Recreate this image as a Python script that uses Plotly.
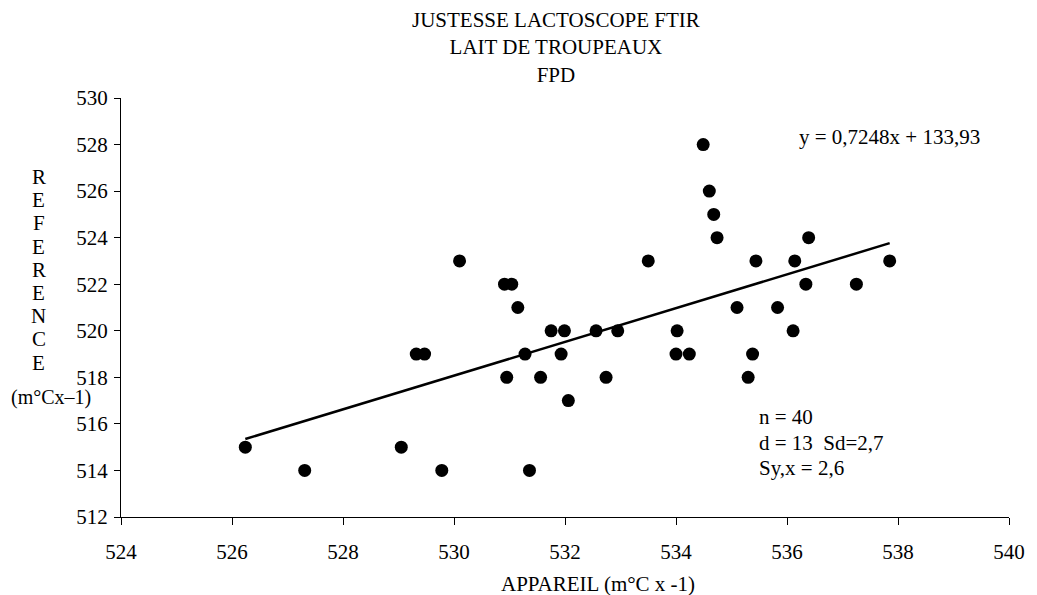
import plotly.graph_objects as go

# Data
appareil = [526.24, 527.31, 529.05, 529.78, 531.36, 529.32, 529.47, 531.28, 531.93, 534.00,
            534.24, 535.38, 530.95, 531.56, 532.74, 535.30, 532.06, 530.10, 533.50, 535.44,
            536.14, 530.91, 531.04, 536.34, 537.25, 531.15, 535.10, 535.83, 531.75, 531.99,
            532.56, 532.95, 534.02, 536.11, 534.49, 534.60, 534.68, 534.74, 536.39, 537.85]
reference = [515, 514, 515, 514, 514, 519, 519, 519, 519, 519,
             519, 519, 518, 518, 518, 518, 517, 523, 523, 523,
             523, 522, 522, 522, 522, 521, 521, 521, 520, 520,
             520, 520, 520, 520, 528, 526, 525, 524, 524, 523]
slope = 0.7248
intercept = 133.93
x_ticks = [524, 526, 528, 530, 532, 534, 536, 538, 540]
y_ticks = [512, 514, 516, 518, 520, 522, 524, 526, 528, 530]
title_lines = ["JUSTESSE LACTOSCOPE FTIR", "LAIT DE TROUPEAUX", "FPD"]
y_title_lines = ["R", "E", "F", "E", "R", "E", "N", "C", "E"]
y_title_unit = "(m°Cx–1)"
x_title = "APPAREIL (m°C x -1)"
equation = "y = 0,7248x + 133,93"
stats_lines = ["n = 40", "d = 13  Sd=2,7", "Sy,x = 2,6"]

W, H = 1037, 595
L, R, T, B = 121, 19, 98, 78
PW, PH = W - L - R, H - T - B
FONT = "Liberation Serif, Times New Roman, serif"
FS = 21


def px(xp):
    return (xp - L) / PW


def py(yp):
    return (H - B - yp) / PH


fig = go.Figure()
fig.add_trace(go.Scatter(
    x=appareil, y=reference, mode="markers",
    marker=dict(color="black", size=13, symbol="circle"),
    showlegend=False, hoverinfo="x+y"))

xmin, xmax = min(appareil), max(appareil)
fig.add_trace(go.Scatter(
    x=[xmin, xmax], y=[slope * xmin + intercept, slope * xmax + intercept],
    mode="lines", line=dict(color="black", width=2.5),
    showlegend=False, hoverinfo="skip"))

ann = []
ann.append(dict(text="<br>".join(title_lines), xref="paper", yref="paper",
                x=px(560), y=py(48), xanchor="center", yanchor="middle",
                showarrow=False, font=dict(family=FONT, size=FS, color="black")))
for i, ch in enumerate(y_title_lines):
    ann.append(dict(text=ch, xref="paper", yref="paper",
                    x=px(38), y=py(177 + i * 23.2), xanchor="center", yanchor="middle",
                    showarrow=False, font=dict(family=FONT, size=FS, color="black")))
ann.append(dict(text=y_title_unit, xref="paper", yref="paper",
                x=px(50), y=py(397), xanchor="center", yanchor="middle",
                showarrow=False, font=dict(family=FONT, size=20, color="black")))
ann.append(dict(text=x_title, xref="paper", yref="paper",
                x=px(503), y=py(584), xanchor="left", yanchor="middle",
                showarrow=False, font=dict(family=FONT, size=FS, color="black")))
ann.append(dict(text=equation, xref="paper", yref="paper",
                x=px(804), y=py(137), xanchor="left", yanchor="middle",
                showarrow=False, font=dict(family=FONT, size=FS, color="black")))
for i, line in enumerate(stats_lines):
    ann.append(dict(text=line, xref="paper", yref="paper",
                    x=px(763), y=py(417 + i * 25.5), xanchor="left", yanchor="middle",
                    showarrow=False, font=dict(family=FONT, size=FS, color="black")))

fig.update_layout(
    width=W, height=H,
    margin=dict(l=L, r=R, t=T, b=B, pad=0),
    paper_bgcolor="white", plot_bgcolor="white",
    font=dict(family=FONT, size=FS, color="black"),
    annotations=ann,
    xaxis=dict(range=[524, 540], tickvals=x_ticks, ticktext=[str(v) for v in x_ticks],
               showgrid=False, zeroline=False, showline=True, linecolor="black",
               linewidth=1, ticks="outside", ticklen=7, tickcolor="black",
               tickfont=dict(family=FONT, size=FS, color="black"), ticklabelstandoff=9),
    yaxis=dict(range=[512, 530], tickvals=y_ticks, ticktext=[str(v) for v in y_ticks],
               showgrid=False, zeroline=False, showline=True, linecolor="black",
               linewidth=1, ticks="outside", ticklen=6, tickcolor="black",
               tickfont=dict(family=FONT, size=FS, color="black"), ticklabelstandoff=2),
)

fig.write_html("out.html")
